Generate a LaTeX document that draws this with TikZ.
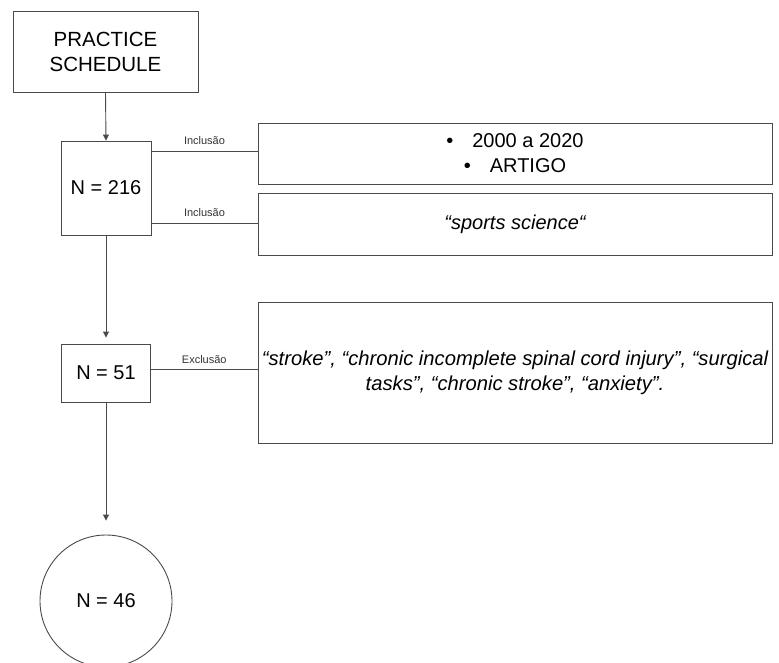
\documentclass[tikz,border=0pt]{standalone}
\usepackage{fontspec}
\setmainfont{Liberation Sans}
\usetikzlibrary{arrows.meta}
\definecolor{edge}{HTML}{4A4A4A}
\definecolor{lbl}{HTML}{333333}
\tikzset{
  x=1pt, y=-1pt,
  box/.style={draw=edge, line width=0.9pt, rectangle, inner sep=2pt, align=center},
  numtxt/.style={font=\fontsize{20}{24}\selectfont},
  link/.style={draw=edge, line width=0.9pt},
  flow/.style={link, -{Triangle[length=6pt,width=6pt]}},
  tag/.style={font=\fontsize{11}{13}\selectfont, text=lbl, inner sep=2pt}
}
\begin{document}
\begin{tikzpicture}
\useasboundingbox (0,0) rectangle (779,662);

% left column
\node[box, minimum width=185pt, minimum height=81pt, font=\fontsize{20.5}{25}\selectfont] (ps) at (105.5,51.5) {PRACTICE\\SCHEDULE};
\node[box, numtxt, minimum width=90pt, minimum height=94pt] (n216) at (106,188) {N = 216};
\node[box, numtxt, minimum width=89pt, minimum height=58pt] (n51) at (106,373) {N = 51};
\node[draw=edge, line width=0.9pt, circle, minimum size=132pt, numtxt] (n46) at (106,601) {N = 46};

% criteria boxes
\node[box, minimum width=514pt, minimum height=61pt, font=\fontsize{20}{25}\selectfont] (b1) at (515,153.5)
  {\textbullet\hspace{0.95em}2000 a 2020\\\textbullet\hspace{0.95em}ARTIGO};
\node[box, minimum width=514pt, minimum height=62pt, font=\fontsize{20}{24}\selectfont\itshape] (b2) at (515,224)
  {“sports science“};
\node[box, minimum width=514pt, minimum height=141pt, font=\fontsize{20.2}{25}\selectfont\itshape] (b3) at (515,372.5)
  {“stroke”, “chronic incomplete spinal cord injury”, “surgical\\tasks”, “chronic stroke”, “anxiety”.};

% main flow (the lower arrows stop short of their targets)
\draw[flow] (ps.south) -- (n216.north);
\draw[flow] (n216.south) -- ([yshift=6pt]n51.north);
\draw[flow] (n51.south) -- ([yshift=14pt]n46.north);

% branches to criteria
\draw[link] ([yshift=2.5pt]b1.west -| n216.east) -- node[tag, above=4pt] {Inclusão} ([yshift=2.5pt]b1.west);
\draw[link] ([yshift=1pt]b2.west -| n216.east) -- node[tag, above=4pt] {Inclusão} ([yshift=1pt]b2.west);
\draw[link] ([yshift=3.5pt]b3.west -| n51.east) -- node[tag, above=3pt] {Exclusão} ([yshift=3.5pt]b3.west);
\end{tikzpicture}
\end{document}
